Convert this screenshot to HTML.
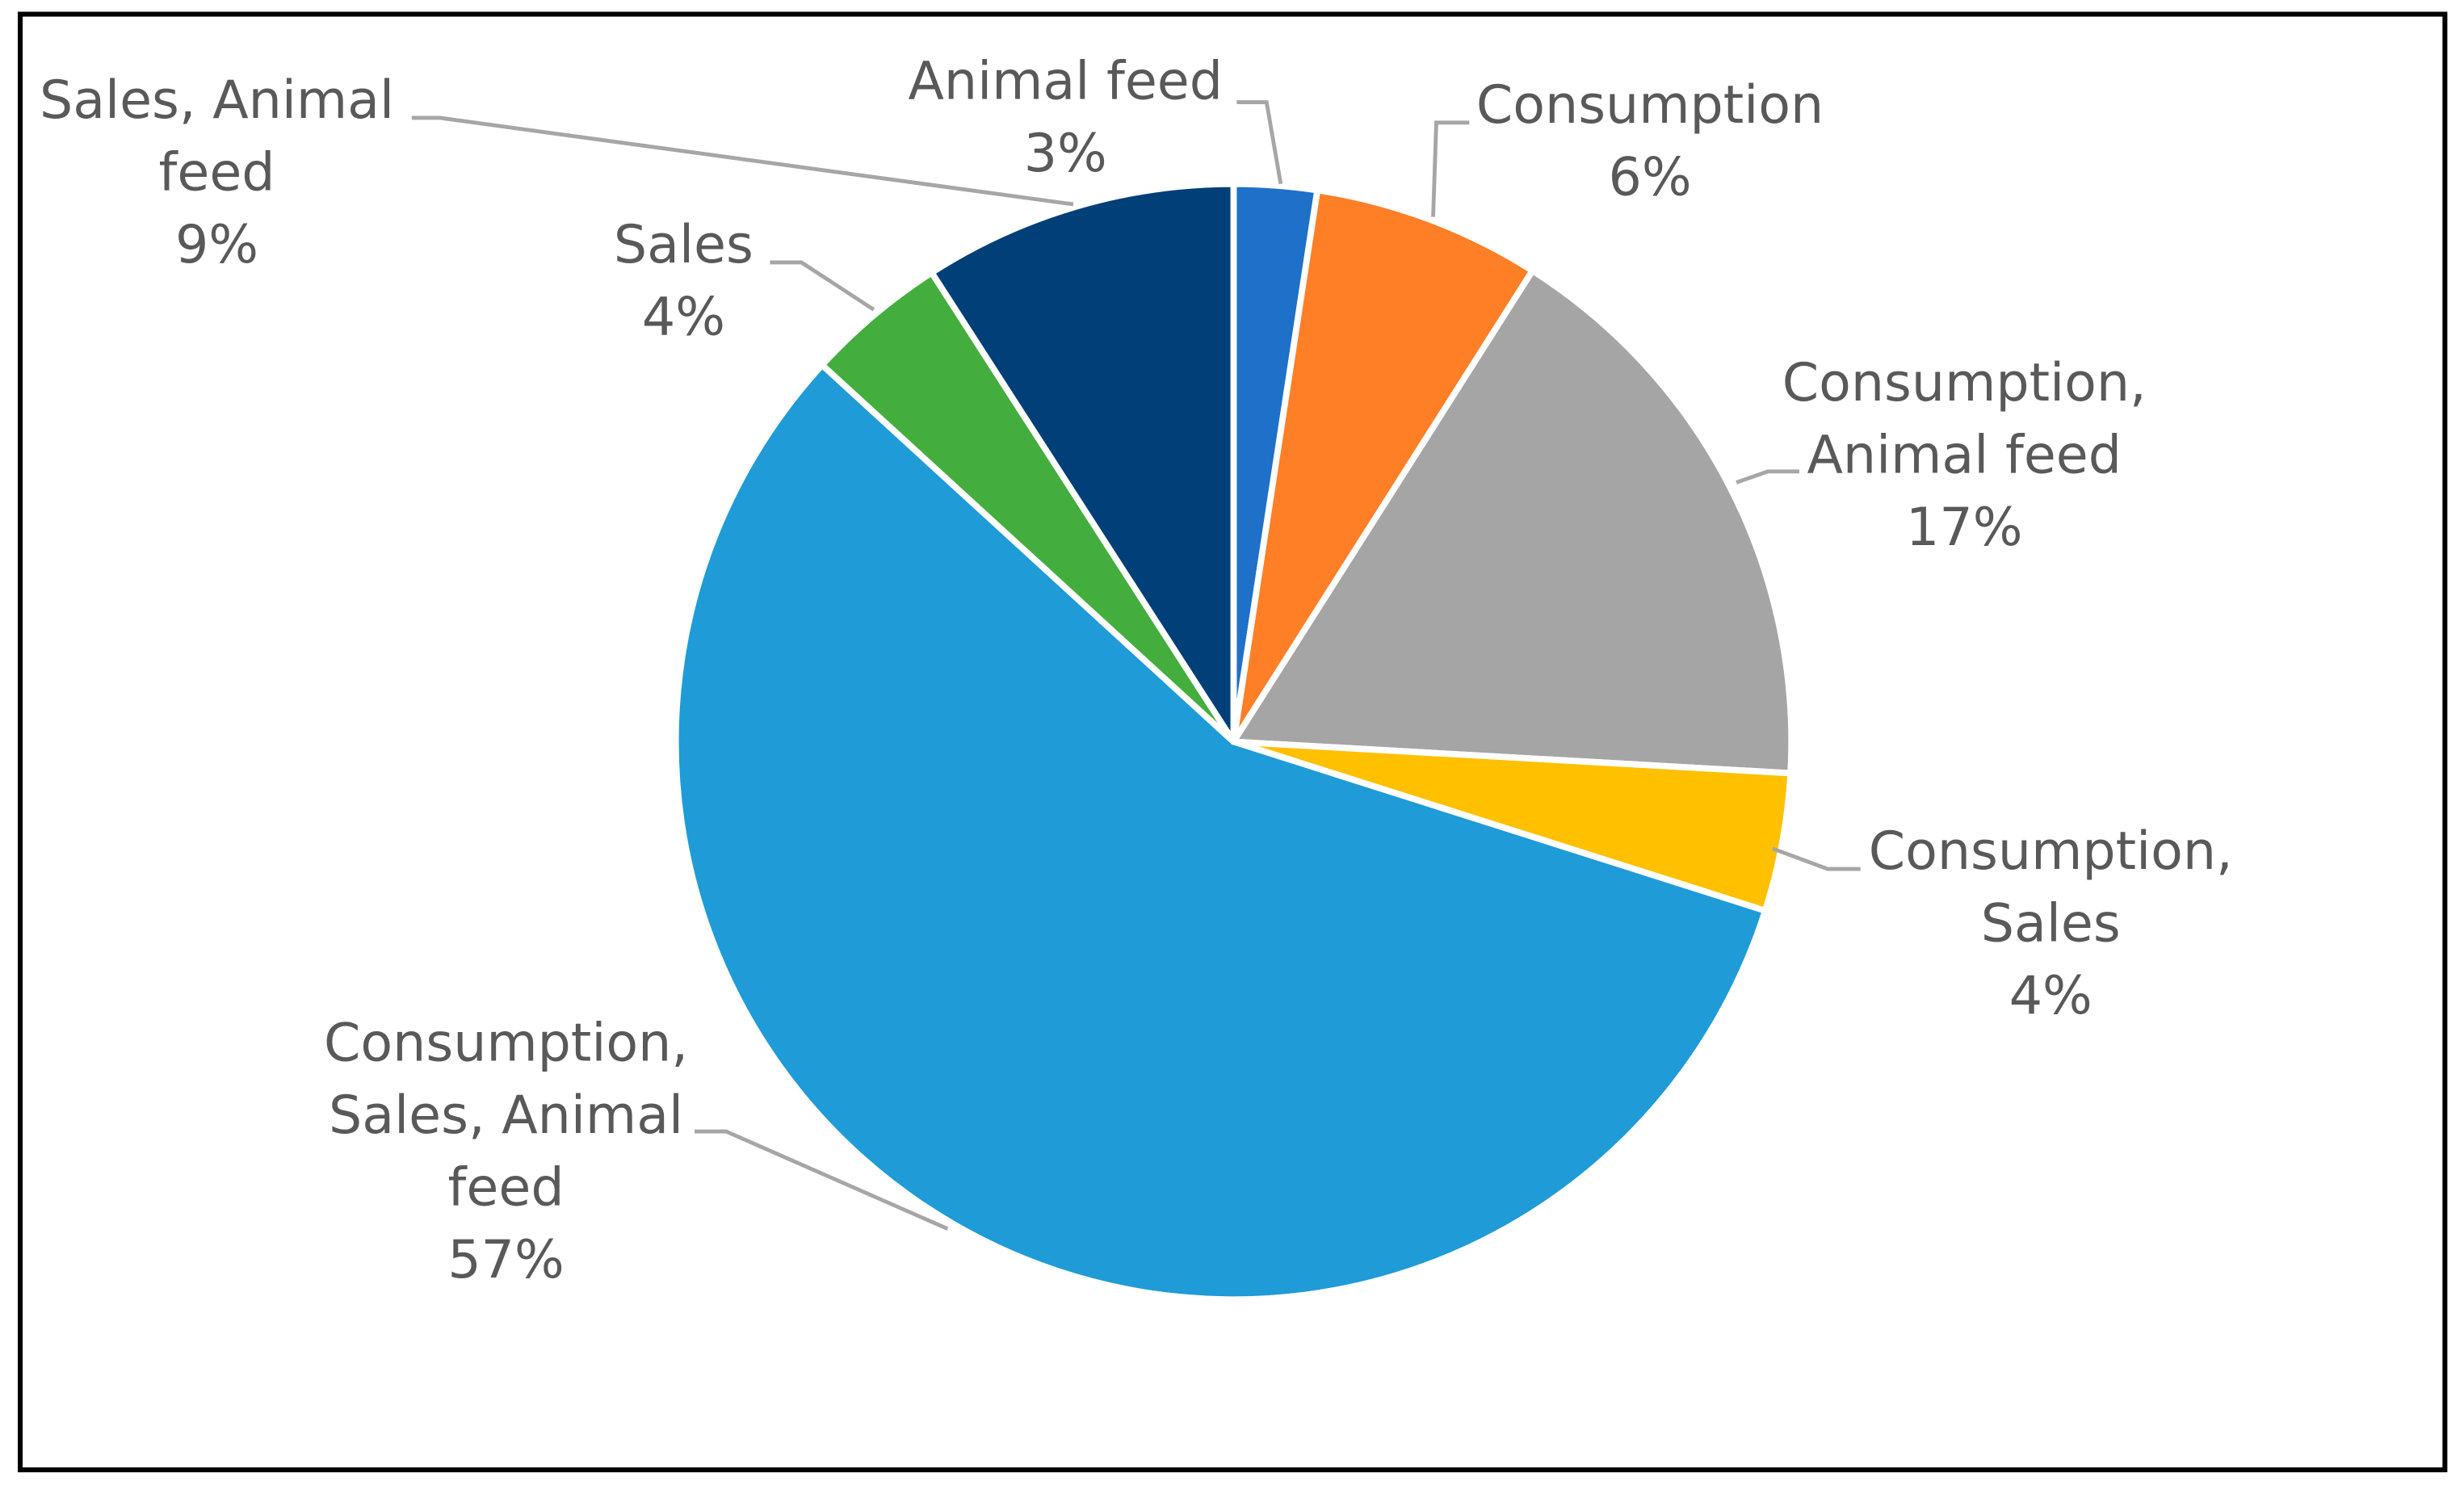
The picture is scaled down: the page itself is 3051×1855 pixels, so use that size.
<!DOCTYPE html>
<html><head><meta charset="utf-8"><style>
html,body{margin:0;padding:0;background:#fff;}
svg{display:block;}
</style></head><body>
<svg id="chart" width="3051" height="1855" viewBox="0 0 1568 953.3" xmlns="http://www.w3.org/2000/svg">
<rect x="12.85" y="9" width="1543" height="926.4" fill="#fff" stroke="#000" stroke-width="3.1"/>
<g id="slices"></g>
<g id="leaders"></g>
<g id="labels"></g>
</svg>
<script>
const categories = ["Animal feed","Consumption","Consumption, Animal feed","Consumption, Sales","Consumption, Sales, Animal feed","Sales","Sales, Animal feed"];
const values = [2.4, 6.6, 16.9, 4.0, 56.9, 4.1, 9.1];
const pctLabels = ["3%","6%","17%","4%","57%","4%","9%"];
const labelLines = [["Animal feed"],["Consumption"],["Consumption,","Animal feed"],["Consumption,","Sales"],["Consumption,","Sales, Animal","feed"],["Sales"],["Sales, Animal","feed"]];
const colors = ["#1F70C8","#FF7F27","#A5A5A5","#FFC000","#1F9BD7","#43AE3E","#003F78"];
// label layout (display coords): center x, first baseline y
const labelPos = [[678,63],[1050,78],[1250,255],[1305,553],[322,675],[435,167],[138,75]];
const leaderPts = [
 [[787,65],[806,65],[815,117]],
 [[935,78],[914,78],[912,138]],
 [[1145,300],[1125,300],[1105,307]],
 [[1184,553],[1163,553],[1128,540]],
 [[442,720],[462,720],[603,782]],
 [[490,167],[510,167],[556,197]],
 [[262,75],[280,75],[683,130]]
];
const NS="http://www.w3.org/2000/svg";
const cx=785, cy=472, r=355;
const total=values.reduce((a,b)=>a+b,0);
function pt(frac){const a=frac*2*Math.PI;return [cx+r*Math.sin(a), cy-r*Math.cos(a)];}
const gS=document.getElementById('slices');
let acc=0;
values.forEach((v,i)=>{
  const s=acc/total, e=(acc+v)/total; acc+=v;
  const p0=pt(s), p1=pt(e);
  const large=(e-s)>0.5?1:0;
  const path=document.createElementNS(NS,'path');
  path.setAttribute('d',`M${cx},${cy} L${p0[0]},${p0[1]} A${r},${r} 0 ${large} 1 ${p1[0]},${p1[1]} Z`);
  path.setAttribute('fill',colors[i]);
  path.setAttribute('stroke','#fff');
  path.setAttribute('stroke-width','4');
  path.setAttribute('stroke-linejoin','round');
  
  
  gS.appendChild(path);
});
const gL=document.getElementById('leaders');
leaderPts.forEach((pts,i)=>{
  const pl=document.createElementNS(NS,'polyline');
  pl.setAttribute('points',pts.map(p=>p.join(',')).join(' '));
  pl.setAttribute('fill','none');
  pl.setAttribute('stroke','#A6A6A6');
  pl.setAttribute('stroke-width','2.5');
  
  
  gL.appendChild(pl);
});
const gT=document.getElementById('labels');
labelLines.forEach((lines,i)=>{
  const t=document.createElementNS(NS,'text');
  t.setAttribute('text-anchor','middle');
  t.setAttribute('font-family','"DejaVu Sans", "Liberation Sans", sans-serif');
  t.setAttribute('font-size','33.4');
  t.setAttribute('fill','#595959');
  
  
  const all=lines.concat([pctLabels[i]]);
  all.forEach((ln,j)=>{
    const ts=document.createElementNS(NS,'tspan');
    ts.setAttribute('x',labelPos[i][0]);
    ts.setAttribute('y',labelPos[i][1]+j*46);
    ts.textContent=ln;
    t.appendChild(ts);
  });
  gT.appendChild(t);
});
</script>
</body></html>
